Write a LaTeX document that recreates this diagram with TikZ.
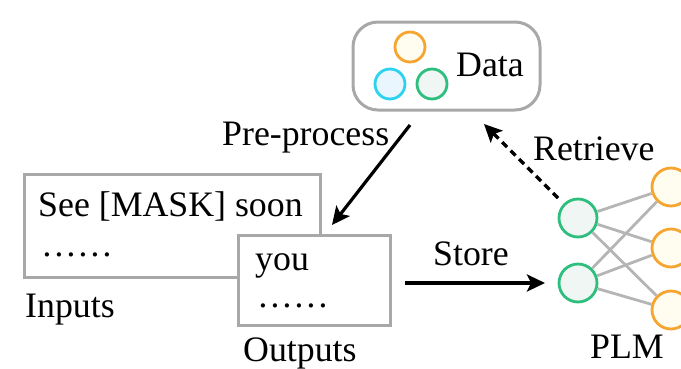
\documentclass[tikz,border=0pt]{standalone}
\usepackage{fontspec}
\setmainfont{Liberation Serif}
\usetikzlibrary{arrows.meta}
\definecolor{boxgray}{HTML}{A8A8A8}
\definecolor{linkgray}{HTML}{B5B5B5}
\definecolor{orangeline}{HTML}{F7A531}
\definecolor{orangefill}{HTML}{FFFDF0}
\definecolor{cyanline}{HTML}{2CD3EE}
\definecolor{cyanfill}{HTML}{EAF6FD}
\definecolor{greenline}{HTML}{2EBF7E}
\definecolor{greenfill}{HTML}{EFF6F3}
\tikzset{
  txt/.style={inner sep=0pt, anchor=base west, font=\fontsize{35.8}{42}\selectfont},
  textbox/.style={draw=boxgray, line width=3pt, fill=white, inner sep=0pt},
  dot/.style={circle, line width=2.8pt, inner sep=0pt, minimum size=#1},
  neuronG/.style={dot=38pt, draw=greenline, fill=greenfill},
  neuronO/.style={dot=38pt, draw=orangeline, fill=orangefill},
  flow/.style={line width=3.2pt, -{Stealth[length=18pt,width=17pt,inset=4pt]}},
  link/.style={draw=linkgray, line width=2.8pt},
}
\begin{document}
\begin{tikzpicture}[x=1pt,y=-1pt]
\useasboundingbox (0,0) rectangle (681,368);
\clip (0,0) rectangle (681,368);

% data store
\node[textbox, rounded corners=25pt, minimum width=187pt, minimum height=88pt] (data) at (446.5,66) {};
\node[dot=30pt, draw=orangeline, fill=orangefill] (c1) at (410,47) {};
\node[dot=30pt, draw=cyanline, fill=cyanfill] (c2) at (390,84) {};
\node[dot=30pt, draw=greenline, fill=greenfill] (c3) at (432,84) {};
\node[txt] (datalbl) at (456,76) {Data};

% masked input and predicted output
\node[textbox, minimum width=296pt, minimum height=103pt] (inbox) at (172,225.5) {};
\node[txt] (intext) at (38,216) {See [MASK] soon};
\node[txt] (indots) at (41,256) {……};
\node[txt] (inlbl) at (25,317) {Inputs};

\node[textbox, minimum width=152pt, minimum height=90pt] (outbox) at (314,280) {};
\node[txt] (outtext) at (255,270) {you};
\node[txt] (outdots) at (257,307) {……};
\node[txt] (outlbl) at (243,361) {Outputs};

% language model
\node[neuronG] (g1) at (578,218) {};
\node[neuronG] (g2) at (578,283) {};
\node[neuronO] (o1) at (671,187) {};
\node[neuronO] (o2) at (671,248) {};
\node[neuronO] (o3) at (671,310) {};
\foreach \g in {g1,g2}
  \foreach \o in {o1,o2,o3}
    \draw[link] (\g) -- (\o);
\node[txt] (plm) at (590,358) {PLM};

% flows between the parts
\coordinate (ppS) at (410,125);
\coordinate (ppE) at (332,225);
\coordinate (rtS) at (558,198);
\coordinate (rtE) at (484,124);
\coordinate (stS) at (405,283);
\coordinate (stE) at (545,283);
\draw[flow] (ppS) -- (ppE);
\draw[flow, dash pattern=on 7pt off 5pt] (rtS) -- (rtE);
\draw[flow] (stS) -- (stE);

\node[txt] (pplbl) at (222,145) {Pre-process};
\node[txt] (rtlbl) at (533,160) {Retrieve};
\node[txt] (stlbl) at (433,265) {Store};
\end{tikzpicture}
\end{document}
